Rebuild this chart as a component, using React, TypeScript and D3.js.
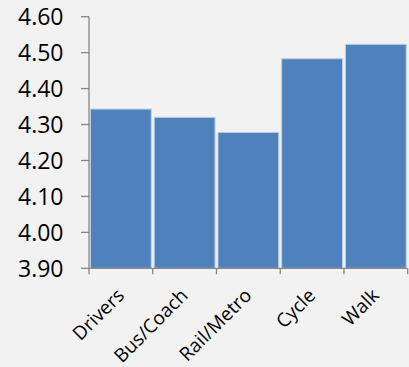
import React from "react";
import * as d3 from "d3";

const categories = ["Drivers", "Bus/Coach", "Rail/Metro", "Cycle", "Walk"];
const scores = [4.343, 4.32, 4.278, 4.483, 4.523];
const yTicks = [3.9, 4.0, 4.1, 4.2, 4.3, 4.4, 4.5, 4.6];

const W = 409;
const H = 367;
const left = 89;
const right = 407.7;
const top = 16.7;
const bottom = 268.3;
const font = "'Open Sans', 'DejaVu Sans', sans-serif";
const axisColor = "#868686";

export default function App() {
  const x = d3.scaleBand<string>().domain(categories).range([left, right]).padding(0);
  const y = d3.scaleLinear().domain([3.9, 4.6]).range([bottom, top]);
  const bw = x.bandwidth();
  const boundaries = categories.map((c) => x(c) as number).concat([right]);

  return (
    <svg
      width={W}
      height={H}
      style={{ position: "absolute", left: 0, top: 0, background: "#f2f2f2" }}
    >
      <rect x={0} y={0} width={W} height={H} fill="#f2f2f2" />
      {categories.map((c, i) => (
        <rect
          key={c}
          x={(x(c) as number) + 1.5}
          y={y(scores[i])}
          width={bw - 3}
          height={bottom - y(scores[i])}
          fill="#4f81bd"
          stroke="#b9cde5"
          strokeWidth={1}
        />
      ))}
      {/* y axis */}
      <line x1={left} x2={left} y1={top} y2={bottom} stroke={axisColor} strokeWidth={1.3} />
      {yTicks.map((t) => (
        <g key={t}>
          <line x1={left - 8} x2={left} y1={y(t)} y2={y(t)} stroke={axisColor} strokeWidth={1.3} />
          <text
            x={63.5}
            y={y(t)}
            dy="0.36em"
            textAnchor="end"
            fontFamily={font}
            fontSize={23}
            fill="#000"
          >
            {t.toFixed(2)}
          </text>
        </g>
      ))}
      {/* x axis */}
      <line x1={left} x2={right} y1={bottom} y2={bottom} stroke={axisColor} strokeWidth={1.3} />
      {boundaries.map((b, i) => (
        <line key={i} x1={b} x2={b} y1={bottom} y2={bottom + 6} stroke={axisColor} strokeWidth={1.3} />
      ))}
      {categories.map((c) => {
        const cx = (x(c) as number) + bw / 2 - 5;
        const cy = bottom + 19;
        return (
          <text
            key={c}
            transform={`translate(${cx},${cy}) rotate(-45)`}
            dy="0.7em"
            textAnchor="end"
            fontFamily={font}
            fontSize={19}
            fill="#000"
          >
            {c}
          </text>
        );
      })}
    </svg>
  );
}
